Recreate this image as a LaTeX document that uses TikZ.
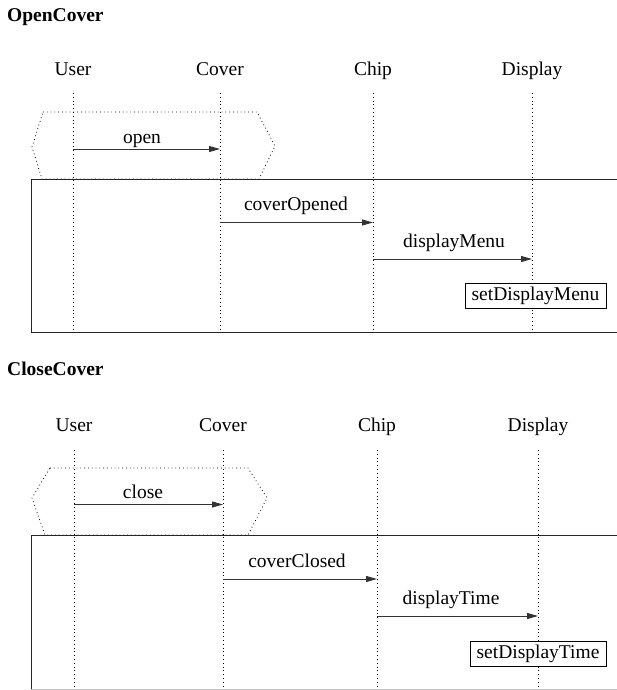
\documentclass[tikz,border=0pt]{standalone}
\usepackage{fontspec}
\setmainfont{Liberation Serif}
\usetikzlibrary{arrows.meta}
\begin{document}
\begin{tikzpicture}[x=1pt,y=-1pt,
  every node/.style={font=\fontsize{19.5}{23}\selectfont, inner sep=0pt},
  title/.style={font=\fontsize{19.5}{23}\selectfont\bfseries, anchor=base west},
  head/.style={anchor=base},
  msglabel/.style={anchor=base},
  lifeline/.style={line width=0.8pt, dash pattern=on 0.8pt off 3pt},
  fragment/.style={line width=0.8pt, dash pattern=on 0.8pt off 3pt},
  msg/.style={line width=1pt, draw=black!80, -{Triangle[length=11pt,width=6pt]}},
  frame/.style={line width=1pt, draw=black!85},
  action/.style={draw, line width=0.8pt, minimum height=25pt, inner xsep=6.5pt}
]
\useasboundingbox (0,0) rectangle (617,690);

% ---------------- OpenCover ----------------
\node[title] (t1) at (7,22) {OpenCover};

\node[head] (user1)  at (73,76)  {User};
\node[head] (cover1) at (220,76) {Cover};
\node[head] (chip1)  at (373,76) {Chip};
\node[head] (disp1)  at (532,76) {Display};

\foreach \n in {user1,cover1,chip1,disp1}
  \draw[lifeline] (\n |- 0,93) -- (\n |- 0,332);

% optional fragment around the trigger
\draw[fragment] (43,112) -- (257,112) -- (275,146) -- (259,179)
                -- (42,179) -- (32,147) -- cycle;

% main frame, open on the right
\draw[frame] (617,179) -- (31,179) -- (31,332) -- (617,332);

\draw[msg] (user1 |- 0,149) -- (cover1 |- 0,149);
\node[msglabel] (m1) at (142,143) {open};

\draw[msg] (cover1 |- 0,222.5) -- (chip1 |- 0,222.5);
\node[msglabel] (m2) at (296,210) {coverOpened};

\draw[msg] (chip1 |- 0,259) -- (disp1 |- 0,259);
\node[msglabel] (m3) at (454,247) {displayMenu};

\node[action, fill=white] (a1) at (535.5,295.5) {setDisplayMenu};

% ---------------- CloseCover ----------------
\node[title] (t2) at (7,375) {CloseCover};

\node[head] (user2)  at (74,431)  {User};
\node[head] (cover2) at (223,431) {Cover};
\node[head] (chip2)  at (377,431) {Chip};
\node[head] (disp2)  at (538,431) {Display};

\foreach \n in {user2,cover2,chip2,disp2}
  \draw[lifeline] (\n |- 0,450) -- (\n |- 0,690);

\draw[fragment] (50,468) -- (248,468) -- (267,498) -- (248,535)
                -- (45,535) -- (32,498) -- cycle;

\draw[frame] (617,535.5) -- (31,535.5) -- (31,690);
\draw[line width=1pt, draw=black!25] (31,689.5) -- (617,689.5);

\draw[msg] (user2 |- 0,504.5) -- (cover2 |- 0,504.5);
\node[msglabel] (n1) at (143,498) {close};

\draw[msg] (cover2 |- 0,579) -- (chip2 |- 0,579);
\node[msglabel] (n2) at (297,567) {coverClosed};

\draw[msg] (chip2 |- 0,616) -- (disp2 |- 0,616);
\node[msglabel] (n3) at (451,604) {displayTime};

\node[action, fill=white] (a2) at (538,653.5) {setDisplayTime};
\end{tikzpicture}
\end{document}
